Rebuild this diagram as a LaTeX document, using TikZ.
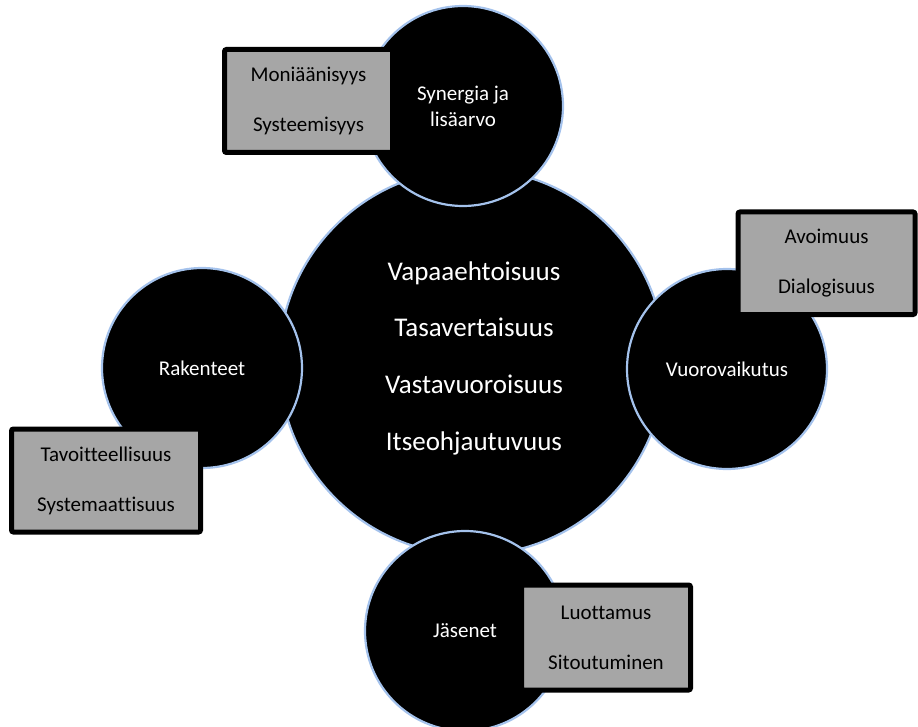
\documentclass[tikz,border=0pt]{standalone}
\usepackage{fontspec}
\setmainfont{Carlito}[Ligatures=NoCommon]
\definecolor{ringblue}{HTML}{A4C2EC}
\definecolor{boxgray}{HTML}{A6A6A6}
\begin{document}
\begin{tikzpicture}[x=1pt,y=-1pt,
  hub/.style={circle, fill=black, draw=ringblue, line width=2.2pt, inner sep=0pt,
    text=white, align=center},
  topic/.style={circle, fill=black, draw=ringblue, line width=2.2pt, inner sep=0pt,
    minimum size=200pt, text=white, align=center, font=\fontsize{21}{26}\selectfont},
  tagbox/.style={rectangle, fill=boxgray, draw=black, line width=5pt, rounded corners=2pt,
    inner sep=0pt, align=center, text=black, font=\fontsize{21}{50}\selectfont}]
\useasboundingbox (0,0) rectangle (918,727);

% central circle with the shared principles
\node[hub, minimum size=386pt] (core) at (472,362) {};
\node[text=white, align=center, inner sep=0pt, font=\fontsize{27}{56.7}\selectfont] (principles) at (474,358)
  {Vapaaehtoisuus\\Tasavertaisuus\\Vastavuoroisuus\\Itseohjautuvuus};

% four surrounding themes
\node[topic] (synergy) at (463,106) {Synergia ja\\lisäarvo};
\node[topic] (structures) at (202,368) {Rakenteet};
\node[topic] (interaction) at (727,369) {Vuorovaikutus};
\node[topic] (members) at (465,631) {Jäsenet};

% attribute boxes
\node[tagbox, minimum width=168pt, minimum height=103pt] (b1) at (308.5,101)
  {Moniäänisyys\\Systeemisyys};
\node[tagbox, minimum width=177pt, minimum height=102.5pt] (b2) at (826.5,263.25)
  {Avoimuus\\Dialogisuus};
\node[tagbox, minimum width=189pt, minimum height=103pt] (b3) at (106,480.5)
  {Tavoitteellisuus\\Systemaattisuus};
\node[tagbox, minimum width=169pt, minimum height=105pt] (b4) at (606,637.5)
  {Luottamus\\Sitoutuminen};
\end{tikzpicture}
\end{document}
